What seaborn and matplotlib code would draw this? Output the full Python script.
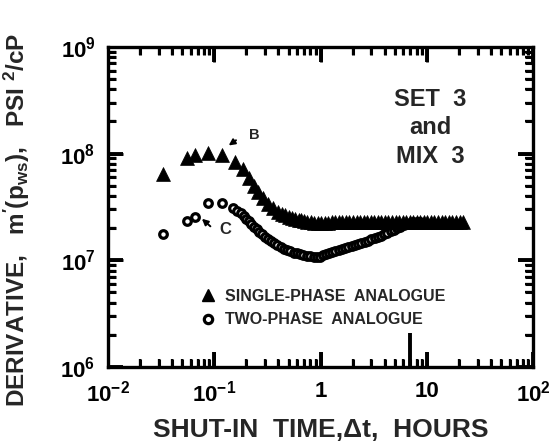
import numpy as np
import pandas as pd
import matplotlib
matplotlib.use("Agg")
import matplotlib.pyplot as plt
from matplotlib.lines import Line2D
import seaborn as sns

# ---- data ----
single_t = [0.033, 0.055, 0.066, 0.088, 0.117, 0.155, 0.185, 0.21, 0.235, 0.26,
            0.29, 0.32, 0.36, 0.40, 0.43, 0.46, 0.50, 0.54, 0.58, 0.62,
            0.66, 0.70, 0.75, 0.81, 0.87, 0.94, 1.01, 1.09, 1.18, 1.27,
            1.37, 1.48, 1.60, 1.73, 1.87, 2.02, 2.18, 2.35, 2.54, 2.74,
            2.96, 3.20, 3.45, 3.73, 4.03, 4.35, 4.70, 5.07, 5.48, 5.92,
            6.39, 6.90, 7.45, 8.05, 8.69, 9.39, 10.1, 10.9, 11.8, 12.8,
            13.8, 14.9, 16.1, 17.4, 18.8, 20.3, 22.0]
single_v = [6.45e7, 9.0e7, 9.7e7, 1.02e8, 9.7e7, 8.4e7, 7.2e7, 5.9e7, 5.0e7, 4.4e7,
            3.8e7, 3.4e7, 3.1e7, 2.85e7, 2.74e7, 2.65e7, 2.55e7, 2.49e7, 2.44e7, 2.40e7,
            2.37e7, 2.34e7, 2.31e7, 2.28e7, 2.25e7, 2.23e7, 2.22e7, 2.22e7, 2.24e7, 2.27e7,
            2.29e7, 2.30e7, 2.30e7, 2.31e7, 2.30e7, 2.31e7, 2.31e7, 2.30e7, 2.31e7, 2.31e7,
            2.30e7, 2.31e7, 2.31e7, 2.30e7, 2.31e7, 2.31e7, 2.30e7, 2.31e7, 2.31e7, 2.30e7,
            2.31e7, 2.31e7, 2.30e7, 2.31e7, 2.31e7, 2.30e7, 2.31e7, 2.31e7, 2.30e7, 2.31e7,
            2.31e7, 2.30e7, 2.31e7, 2.31e7, 2.30e7, 2.31e7, 2.30e7]

two_t = [0.033, 0.055, 0.066, 0.088, 0.117, 0.151, 0.165, 0.18, 0.19, 0.20,
         0.21, 0.22, 0.235, 0.25, 0.265, 0.28, 0.30, 0.32, 0.34, 0.365,
         0.39, 0.42, 0.45, 0.48, 0.52, 0.56, 0.60, 0.645, 0.69, 0.74,
         0.80, 0.86, 0.92, 0.98, 1.05, 1.12, 1.20, 1.29, 1.38, 1.48,
         1.59, 1.70, 1.83, 1.96, 2.10, 2.25, 2.42, 2.60, 2.79, 3.00,
         3.22, 3.45, 3.70, 3.97, 4.26, 4.57, 4.90, 5.26, 5.64, 6.05,
         6.49, 6.96, 7.47, 8.00, 8.60]
two_v = [1.78e7, 2.35e7, 2.55e7, 3.43e7, 3.43e7, 3.07e7, 2.92e7, 2.76e7, 2.60e7, 2.45e7,
         2.32e7, 2.20e7, 2.06e7, 1.95e7, 1.85e7, 1.76e7, 1.67e7, 1.60e7, 1.53e7, 1.46e7,
         1.40e7, 1.34e7, 1.29e7, 1.25e7, 1.21e7, 1.18e7, 1.16e7, 1.14e7, 1.12e7, 1.10e7,
         1.09e7, 1.08e7, 1.08e7, 1.085e7, 1.11e7, 1.14e7, 1.17e7, 1.20e7, 1.23e7, 1.26e7,
         1.28e7, 1.30e7, 1.33e7, 1.35e7, 1.38e7, 1.41e7, 1.44e7, 1.48e7, 1.52e7, 1.57e7,
         1.61e7, 1.65e7, 1.70e7, 1.76e7, 1.82e7, 1.88e7, 1.93e7, 1.99e7, 2.06e7, 2.13e7,
         2.19e7, 2.24e7, 2.27e7, 2.30e7, 2.31e7]

marker_t = 6.9
x_ticks = [0.01, 0.1, 1, 10, 100]
x_tick_labels = ["$10^{-2}$", "$10^{-1}$", "1", "10", "$10^{2}$"]
y_ticks = [1e6, 1e7, 1e8, 1e9]
y_tick_labels = ["$10^{6}$", "$10^{7}$", "$10^{8}$", "$10^{9}$"]

# ---- style ----
sns.set_style("ticks")
plt.rcParams["font.family"] = ["Liberation Sans", "DejaVu Sans"]
plt.rcParams["font.weight"] = "bold"
plt.rcParams["mathtext.fontset"] = "custom"
plt.rcParams["mathtext.rm"] = "Liberation Sans:bold"
plt.rcParams["mathtext.bf"] = "Liberation Sans:bold"
plt.rcParams["mathtext.it"] = "Liberation Sans:bold"
plt.rcParams["mathtext.default"] = "bf"
plt.rcParams.update({
    "xtick.direction": "in", "ytick.direction": "in",
    "xtick.top": True, "ytick.right": True,
    "xtick.color": "black", "ytick.color": "black",
    "xtick.major.size": 11, "ytick.major.size": 11,
    "xtick.minor.size": 6, "ytick.minor.size": 6,
    "xtick.major.width": 2.0, "ytick.major.width": 2.0,
    "xtick.minor.width": 1.6, "ytick.minor.width": 1.6,
    "xtick.major.pad": 10, "ytick.major.pad": 9,
    "axes.edgecolor": "black", "axes.linewidth": 2.4,
})

fig = plt.figure(figsize=(5.6, 4.46), dpi=100)
ax = fig.add_axes([0.193, 0.177, 0.759, 0.718])

df_two = pd.DataFrame({"t": two_t, "v": two_v})
df_one = pd.DataFrame({"t": single_t, "v": single_v})

sns.scatterplot(data=df_two, x="t", y="v", marker="o", s=30, color="white",
                edgecolor="black", linewidth=2.3, ax=ax, zorder=3)
sns.scatterplot(data=df_one, x="t", y="v", marker="^", s=100, color="black",
                edgecolor="black", linewidth=0.5, ax=ax, zorder=4)

ax.set_xscale("log")
ax.set_yscale("log")
ax.set_xlim(0.01, 100)
ax.set_ylim(1e6, 1e9)

ax.set_xticks(x_ticks)
ax.set_xticklabels(x_tick_labels, fontsize=16, fontweight="bold")
ax.set_yticks(y_ticks)
ax.set_yticklabels(y_tick_labels, fontsize=16, fontweight="bold")
xminor = [m * 10.0 ** e for e in range(-2, 2) for m in range(2, 10)]
yminor = [m * 10.0 ** e for e in range(6, 9) for m in range(2, 10)]
ax.set_xticks(xminor, minor=True)
ax.set_yticks(yminor, minor=True)

# inward tick segments on all four sides, each a simple line in data space
ax_w_px = 0.759 * 560
ax_h_px = 0.718 * 446
x_lo, x_hi = ax.get_xlim()
y_lo, y_hi = ax.get_ylim()
xdec = np.log10(x_hi / x_lo)
ydec = np.log10(y_hi / y_lo)

def draw_ticks(locs, length_px, axis, lw):
    for v in locs:
        if axis == "x":
            f = 10 ** (ydec * length_px / ax_h_px)
            ax.plot([v, v], [y_lo, y_lo * f], color="black", lw=lw, zorder=5,
                    solid_capstyle="butt")
            ax.plot([v, v], [y_hi, y_hi / f], color="black", lw=lw, zorder=5,
                    solid_capstyle="butt")
        else:
            f = 10 ** (xdec * length_px / ax_w_px)
            ax.plot([x_lo, x_lo * f], [v, v], color="black", lw=lw, zorder=5,
                    solid_capstyle="butt")
            ax.plot([x_hi, x_hi / f], [v, v], color="black", lw=lw, zorder=5,
                    solid_capstyle="butt")

draw_ticks(x_ticks, 15, "x", 2.8)
draw_ticks(xminor, 8, "x", 2.2)
draw_ticks(y_ticks, 15, "y", 2.8)
draw_ticks(yminor, 8, "y", 2.2)

ax.set_xlim(x_lo, x_hi)
ax.set_ylim(y_lo, y_hi)

ax.set_xlabel("SHUT-IN  TIME,\u0394t,  HOURS", fontsize=19, fontweight="bold", labelpad=8)
ax.set_ylabel("DERIVATIVE,   m$'$(p$_{ws}$),   PSI $^{2}$/cP", fontsize=17.5,
              fontweight="bold")
ax.yaxis.set_label_coords(-0.18, 0.46)

# marker at bottom axis
ax.plot([marker_t, marker_t], [1e6, 2.1e6], color="black", lw=2.8, zorder=5,
        solid_capstyle="butt")

# text block
ax.text(0.758, 0.747, "SET  3\nand\nMIX  3", transform=ax.transAxes, ha="center",
        va="center", fontsize=17, fontweight="bold", linespacing=1.3)

# annotations
ax.annotate("", xy=(0.130, 1.15e8), xytext=(0.168, 1.38e8),
            arrowprops=dict(arrowstyle="-|>", color="black", lw=1.4, mutation_scale=9))
ax.text(0.235, 1.5e8, "B", fontsize=10.5, fontweight="bold", ha="center", va="center")
ax.annotate("", xy=(0.073, 2.55e7), xytext=(0.096, 2.0e7),
            arrowprops=dict(arrowstyle="-|>", color="black", lw=1.4, mutation_scale=9))
ax.text(0.128, 1.93e7, "C", fontsize=12, fontweight="bold", ha="center", va="center")

# legend
handles = [Line2D([], [], marker="^", color="black", ls="none", markersize=9),
           Line2D([], [], marker="o", markerfacecolor="white", markeredgecolor="black",
                  markeredgewidth=2.3, ls="none", markersize=6)]
leg = ax.legend(handles, ["SINGLE-PHASE  ANALOGUE", "TWO-PHASE  ANALOGUE"],
                loc="upper left", bbox_to_anchor=(0.185, 0.29), frameon=False,
                handlelength=0.9, handletextpad=0.6, labelspacing=0.55,
                prop={"weight": "bold", "size": 11.5})

fig.savefig("out.png", dpi=100)
